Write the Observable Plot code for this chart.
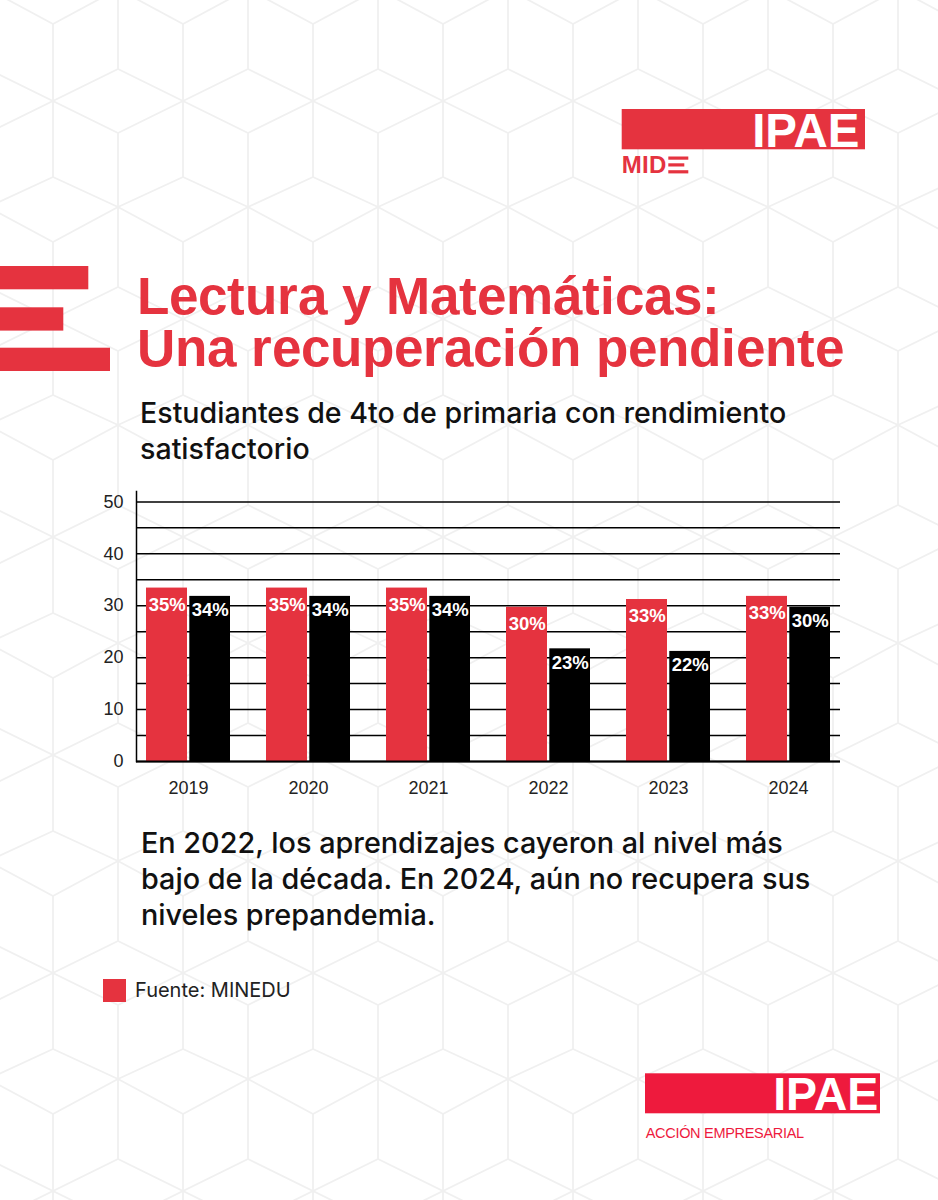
<!DOCTYPE html>
<html>
<head>
<meta charset="utf-8">
<script src="https://cdn.jsdelivr.net/npm/d3@7"></script>
<script src="https://cdn.jsdelivr.net/npm/@observablehq/plot@0.6"></script>
<style>
  @font-face {
    font-family: "TitleSans";
    src: local("Liberation Sans Bold"), local("LiberationSans-Bold");
    font-weight: bold;
    ascent-override: 85%;
    descent-override: 14%;
    line-gap-override: 0%;
  }
  html, body { margin: 0; padding: 0; background: #fff; }
  #page { position: relative; width: 938px; height: 1200px; overflow: hidden; background: #fff; font-family: "Liberation Sans", Arial, sans-serif; }
  .abs { position: absolute; white-space: nowrap; }
  #deco { position: absolute; left: 0; top: 0; }
  .title { left: 137px; font-family: "TitleSans", "Liberation Sans", Arial, sans-serif; font-weight: bold; font-size: 53px; line-height: 50px; height: 50px; color: #e5333f; }
  #title1 { top: 269.5px; }
  #title2 { top: 322.2px; }
  #subtitle { left: 140px; top: 394.5px; font-family: Inter, "Liberation Sans", sans-serif; font-weight: 500; font-size: 28.6px; line-height: 36.7px; color: #111; }
  #chart { left: 0; top: 470px; }
  #note { left: 141px; top: 824.6px; font-family: Inter, "Liberation Sans", sans-serif; font-weight: 500; font-size: 28.8px; line-height: 36.4px; color: #111; }
  #sq { left: 102.7px; top: 979.3px; width: 23px; height: 23px; background: #e5333f; }
  #source { left: 135px; top: 978.9px; font-family: Inter, "Liberation Sans", sans-serif; font-size: 20px; line-height: 23px; color: #222; }
</style>
</head>
<body>
<div id="page">
  <svg id="deco" width="938" height="1200"></svg>
  <div id="title1" class="abs title">Lectura y Matemáticas:</div>
  <div id="title2" class="abs title">Una recuperación pendiente</div>
  <div id="subtitle" class="abs">Estudiantes de 4to de primaria con rendimiento<br>satisfactorio</div>
  <div id="chart" class="abs"></div>
  <div id="note" class="abs">En 2022, los aprendizajes cayeron al nivel más<br>bajo de la década. En 2024, aún no recupera sus<br>niveles prepandemia.</div>
  <div id="sq" class="abs"></div>
  <div id="source" class="abs">Fuente: MINEDU</div>
</div>
<script>
// ---- Data ----
const years = ["2019", "2020", "2021", "2022", "2023", "2024"];
// bar heights as drawn in the reference
const lectura = [33.4, 33.4, 33.4, 29.7, 31.2, 31.8];
const matematicas = [31.8, 31.8, 31.8, 21.7, 21.2, 29.7];
// labels printed on the bars
const lecturaLabels = ["35%", "35%", "35%", "30%", "33%", "33%"];
const matematicasLabels = ["34%", "34%", "34%", "23%", "22%", "30%"];
const yTicks = [0, 10, 20, 30, 40, 50];
const gridTicks = [0, 5, 10, 15, 20, 25, 30, 35, 40, 45, 50];

const RED = "#e5333f";

const rows = years.map((year, i) => ({
  year,
  lectura: lectura[i],
  matematicas: matematicas[i],
  lecturaLabel: lecturaLabels[i],
  matematicasLabel: matematicasLabels[i]
}));

// ---- Decoration: background cube pattern, side bars, logos ----
const deco = d3.select("#deco");
const segs = [];
for (let i = -2; i <= 16; i++) {
  const cx = 53 + 65 * i;
  const isA = (i % 2 === 0);
  for (let k = -2; k <= 6; k++) {
    const b = 24 + 218 * k;
    if (isA) {
      segs.push([cx, b, cx, b + 153]);
      segs.push([cx, b, cx - 65, b - 35], [cx, b, cx + 65, b - 35]);
      segs.push([cx - 65, b + 45, cx + 65, b + 109], [cx - 65, b + 109, cx + 65, b + 45]);
      segs.push([cx, b + 153, cx - 65, b + 183], [cx, b + 153, cx + 65, b + 183]);
    } else {
      segs.push([cx, b + 109, cx, b + 263]);
    }
  }
}
deco.append("g")
  .attr("stroke", "#f0f0f0").attr("stroke-width", 1.8).attr("fill", "none")
  .selectAll("line").data(segs).join("line")
  .attr("x1", d => d[0]).attr("y1", d => d[1]).attr("x2", d => d[2]).attr("y2", d => d[3]);

// left red bars
[[266, 88.3], [307.3, 63.3], [347.7, 110]].forEach(([y, w]) => {
  deco.append("rect").attr("x", 0).attr("y", y).attr("width", w).attr("height", 23.3).attr("fill", RED);
});

// top logo IPAE / MIDE
deco.append("rect").attr("x", 621.7).attr("y", 109).attr("width", 243.3).attr("height", 40.3).attr("fill", RED);
deco.append("text").attr("x", 859.5).attr("y", 146.7).attr("text-anchor", "end")
  .attr("font-family", "Liberation Sans, Arial, sans-serif").attr("font-weight", "bold")
  .attr("font-size", 47.5).attr("fill", "#fff").text("IPAE");
deco.append("text").attr("x", 621.7).attr("y", 173.3).attr("font-family", "Liberation Sans, Arial, sans-serif")
  .attr("font-weight", "bold").attr("font-size", 24).attr("letter-spacing", 0.3).attr("fill", RED).text("MID");
[[156.5, 20], [163.3, 16], [170.2, 20]].forEach(([y, w]) => {
  deco.append("rect").attr("x", 668.3).attr("y", y).attr("width", w).attr("height", 3.2).attr("fill", RED);
});

// bottom logo IPAE / ACCIÓN EMPRESARIAL
const RED2 = "#ee1a3d";
deco.append("rect").attr("x", 645).attr("y", 1073.3).attr("width", 235).attr("height", 40).attr("fill", RED2);
deco.append("text").attr("x", 878.3).attr("y", 1110).attr("text-anchor", "end")
  .attr("font-family", "Liberation Sans, Arial, sans-serif").attr("font-weight", "bold")
  .attr("font-size", 46.5).attr("fill", "#fff").text("IPAE");
deco.append("text").attr("x", 645.7).attr("y", 1138.3)
  .attr("font-family", "Liberation Sans, Arial, sans-serif").attr("font-size", 14.5)
  .attr("letter-spacing", -0.3).attr("fill", RED2).text("ACCIÓN EMPRESARIAL");

// ---- Chart ----
const chart = Plot.plot({
  width: 938,
  height: 340,
  marginLeft: 136,
  marginRight: 98,
  marginTop: 21,
  marginBottom: 49,
  style: { background: "transparent", fontFamily: "Liberation Sans, Arial, sans-serif", fontSize: "18px", color: "#222", overflow: "visible" },
  x: { domain: years, paddingInner: 0.3, paddingOuter: 0.06, label: null },
  y: { domain: [0, 52], label: null },
  marks: [
    Plot.ruleY(gridTicks, { stroke: "#000", strokeWidth: 1.5 }),
    Plot.barY(rows, { x: "year", y: "lectura", fill: RED, insetRight: 43 }),
    Plot.barY(rows, { x: "year", y: "matematicas", fill: "#000", insetLeft: 43.3 }),
    Plot.ruleY([0], { stroke: "#000", strokeWidth: 2 }),
    Plot.frame({ anchor: "left", stroke: "#000", strokeWidth: 1.5 }),
    Plot.text(rows, { x: "year", y: "lectura", text: "lecturaLabel", dx: -21.3, dy: 17, fill: "#fff", fontWeight: "bold", fontSize: 18.5 }),
    Plot.text(rows, { x: "year", y: "matematicas", text: "matematicasLabel", dx: 21.7, dy: 14, fill: "#fff", fontWeight: "bold", fontSize: 18.5 }),
    Plot.axisX({ tickSize: 0, tickPadding: 20, label: null }),
    Plot.axisY({ ticks: yTicks, tickSize: 0, tickPadding: 13, label: null })
  ]
});
document.getElementById("chart").appendChild(chart);
</script>
</body>
</html>
